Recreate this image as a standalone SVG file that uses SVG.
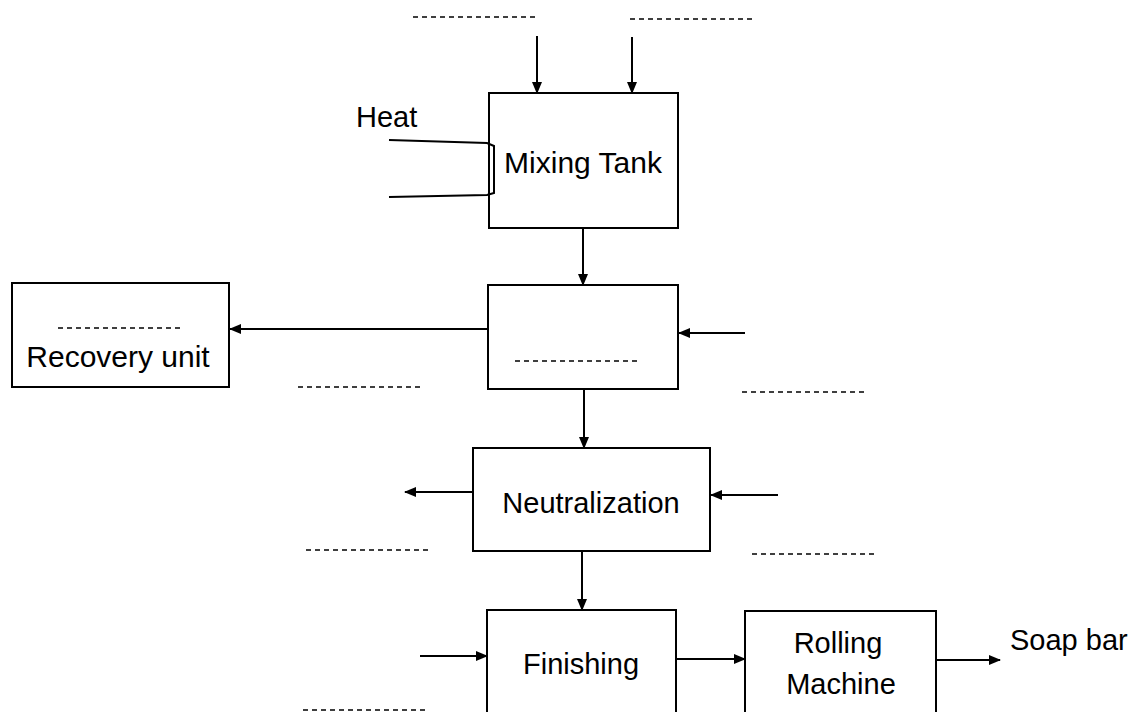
<svg xmlns="http://www.w3.org/2000/svg" width="1139" height="712" viewBox="0 0 1139 712">
<defs>
<marker id="ah" markerUnits="userSpaceOnUse" markerWidth="12" markerHeight="10" refX="11" refY="5" orient="auto">
<path d="M0,0 L12,5 L0,10 Z" fill="#000"/>
</marker>
<style>
.box{fill:#fff;stroke:#000;stroke-width:2}
.lbl{font-family:"Liberation Sans",Arial,sans-serif;font-size:29px;fill:#000}
.big{font-size:30px}
.blank{stroke:#000;stroke-width:1.6;stroke-dasharray:5 4;fill:none}
.con{stroke:#000;stroke-width:2;fill:none}
.arr{stroke:#000;stroke-width:2;fill:none;marker-end:url(#ah)}
</style>
</defs>
<rect width="1139" height="712" fill="#fff"/>

<g id="connectors">
<line class="arr" x1="537" y1="36" x2="537" y2="93"/>
<line class="arr" x1="632" y1="37" x2="632" y2="93"/>
<line class="arr" x1="583" y1="228" x2="583" y2="285"/>
<line class="arr" x1="488" y1="329" x2="230" y2="329"/>
<line class="arr" x1="745" y1="333" x2="679" y2="333"/>
<line class="arr" x1="584" y1="389" x2="584" y2="448"/>
<line class="arr" x1="473" y1="492" x2="405" y2="492"/>
<line class="arr" x1="778" y1="495" x2="711" y2="495"/>
<line class="arr" x1="582" y1="551" x2="582" y2="610"/>
<line class="arr" x1="420" y1="656" x2="487" y2="656"/>
<line class="arr" x1="677" y1="659" x2="745" y2="659"/>
<line class="arr" x1="937" y1="660" x2="1000" y2="660"/>
</g>

<g id="blanks">
<line class="blank" x1="413" y1="17" x2="537" y2="17"/>
<line class="blank" x1="630" y1="19" x2="754" y2="19"/>
<line class="blank" x1="298" y1="387" x2="421" y2="387"/>
<line class="blank" x1="742" y1="392" x2="866" y2="392"/>
<line class="blank" x1="306" y1="550" x2="430" y2="550"/>
<line class="blank" x1="752" y1="554" x2="876" y2="554"/>
<line class="blank" x1="303" y1="710" x2="425" y2="710"/>
</g>

<g id="mixing-tank">
<rect class="box" x="489" y="93" width="189" height="135"/>
<text class="lbl big" x="583" y="173" text-anchor="middle">Mixing Tank</text>
</g>

<g id="heat">
<text class="lbl" x="356" y="127">Heat</text>
<path class="con" d="M389,140 L487,143 L494,146 L494,193 L487,195 L389,197"/>
</g>

<g id="separator">
<rect class="box" x="488" y="285" width="190" height="104"/>
<line class="blank" x1="515" y1="361" x2="638" y2="361"/>
</g>

<g id="recovery-unit">
<rect class="box" x="12" y="283" width="217" height="104"/>
<line class="blank" x1="58" y1="328" x2="183" y2="328"/>
<text class="lbl big" x="118" y="367" text-anchor="middle">Recovery unit</text>
</g>

<g id="neutralization">
<rect class="box" x="473" y="448" width="237" height="103"/>
<text class="lbl" x="591" y="513" text-anchor="middle">Neutralization</text>
</g>

<g id="finishing">
<rect class="box" x="487" y="610" width="189" height="104"/>
<text class="lbl" x="581" y="674" text-anchor="middle">Finishing</text>
</g>

<g id="rolling-machine">
<rect class="box" x="745" y="611" width="191" height="103"/>
<text class="lbl" x="838" y="653" text-anchor="middle">Rolling</text>
<text class="lbl" x="841" y="694" text-anchor="middle">Machine</text>
</g>

<g id="soap-bar">
<text class="lbl" x="1010" y="650">Soap bar</text>
</g>
</svg>
